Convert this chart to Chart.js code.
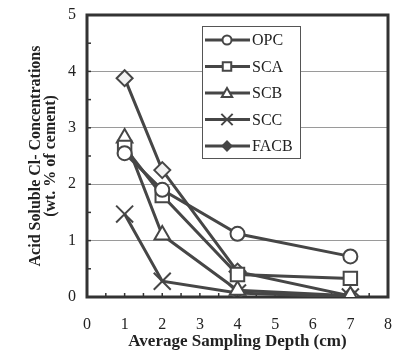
<html>
<head>
    <script src="https://cdn.jsdelivr.net/npm/chart.js@4.4.0/dist/chart.umd.min.js"></script>
    <style>
        body { margin: 0; background: #fff; }
        #wrap { width: 402px; height: 362px; }
    </style>
</head>
<body>
    <div id="wrap"><canvas id="myChart" width="402" height="362"></canvas></div>
    <script type="text/javascript">
        // sampling depths (cm)
        const depths = [1, 2, 4, 7];
        // acid soluble Cl- (wt. % of cement)
        const opc  = [2.55, 1.9, 1.12, 0.72];
        const sca  = [2.65, 1.8, 0.4, 0.33];
        const scb  = [2.82, 1.1, 0.12, 0.02];
        const scc  = [1.47, 0.28, 0.07, 0.0];
        const facb = [3.88, 2.25, 0.45, 0.02];
        const seriesNames = ['OPC', 'SCA', 'SCB', 'SCC', 'FACB'];
        const xTicks = [0, 1, 2, 3, 4, 5, 6, 7, 8];
        const yTicks = [0, 1, 2, 3, 4, 5];

        const lineColor = '#464646';
        const serif = "'Liberation Serif', 'DejaVu Serif', serif";

        const styles = [
            { pointStyle: 'circle',   radius: 7,  bg: '#fff' },
            { pointStyle: 'rect',     radius: 9.5, bg: '#fff' },
            { pointStyle: 'triangle', radius: 9,  bg: '#fff' },
            { pointStyle: 'crossRot', radius: 12, bg: '#fff' },
            { pointStyle: 'rectRot',  radius: 8,  bg: '#f2f2f2' }
        ];
        const legendRadius = [4.5, 6, 6, 8, 4.5];

        function toPoints(vals) {
            return depths.map((d, k) => ({ x: d, y: vals[k] }));
        }

        const allSeries = [opc, sca, scb, scc, facb];
        const datasets = allSeries.map((vals, k) => ({
            label: seriesNames[k],
            data: toPoints(vals),
            borderColor: lineColor,
            borderWidth: 3,
            pointStyle: styles[k].pointStyle,
            pointRadius: styles[k].radius,
            pointBackgroundColor: styles[k].bg,
            pointBorderColor: lineColor,
            pointBorderWidth: 2,
            tension: 0,
            fill: false
        }));

        // frame + small inward ticks
        const framePlugin = {
            id: 'frame',
            beforeDatasetsDraw(chart) {
                const ctx = chart.ctx, a = chart.chartArea;
                const xs = chart.scales.x, ys = chart.scales.y;
                ctx.save();
                ctx.strokeStyle = '#333';
                ctx.lineWidth = 1.5;
                for (let v = 0.5; v < 8; v += 0.5) {
                    const px = xs.getPixelForValue(v);
                    ctx.beginPath();
                    ctx.moveTo(px, a.bottom);
                    ctx.lineTo(px, a.bottom - 4);
                    ctx.stroke();
                }
                for (let v = 0.5; v < 5; v += 0.5) {
                    const py = ys.getPixelForValue(v);
                    ctx.beginPath();
                    ctx.moveTo(a.left, py);
                    ctx.lineTo(a.left + 4, py);
                    ctx.stroke();
                }
                ctx.lineWidth = 3;
                ctx.strokeRect(a.left, a.top, a.right - a.left, a.bottom - a.top);
                ctx.restore();
            }
        };

        // legend box drawn inside the plot
        const legendPlugin = {
            id: 'boxLegend',
            afterDraw(chart) {
                const ctx = chart.ctx;
                const bx = 202, by = 26, bw = 98, bh = 132;
                ctx.save();
                ctx.fillStyle = '#fff';
                ctx.fillRect(bx, by, bw, bh);
                ctx.strokeStyle = '#555';
                ctx.lineWidth = 1;
                ctx.strokeRect(bx + 0.5, by + 0.5, bw, bh);
                chart.data.datasets.forEach((ds, k) => {
                    const y = by + 14 + k * 26.5;
                    ctx.strokeStyle = lineColor;
                    ctx.lineWidth = 3;
                    ctx.beginPath();
                    ctx.moveTo(205, y);
                    ctx.lineTo(250, y);
                    ctx.stroke();
                    ctx.fillStyle = k === 4 ? lineColor : '#fff';
                    ctx.strokeStyle = lineColor;
                    ctx.lineWidth = 2;
                    Chart.helpers.drawPoint(ctx, {
                        pointStyle: ds.pointStyle,
                        rotation: 0,
                        borderWidth: 2,
                        radius: legendRadius[k]
                    }, 227, y + (ds.pointStyle === 'triangle' ? 1 : 0));
                    ctx.fillStyle = '#222';
                    ctx.font = '16px ' + serif;
                    ctx.textBaseline = 'middle';
                    ctx.fillText(ds.label, 252, y + 1);
                });
                ctx.restore();
            }
        };

        const config = {
            type: 'line',
            data: { datasets: datasets },
            options: {
                responsive: false,
                animation: false,
                layout: { padding: { left: 0, right: 5, top: 15, bottom: 0 } },
                plugins: {
                    legend: { display: false },
                    tooltip: { enabled: false }
                },
                scales: {
                    x: {
                        type: 'linear',
                        min: 0,
                        max: 8,
                        afterBuildTicks(scale) { scale.ticks = xTicks.map(v => ({ value: v })); },
                        afterFit(scale) {
                            scale.height = 65;
                            scale.paddingLeft = 0;
                            scale.paddingRight = 0;
                        },
                        grid: { display: false },
                        border: { display: false },
                        ticks: {
                            color: '#222',
                            padding: 10,
                            font: { family: serif, size: 16 }
                        },
                        title: {
                            display: true,
                            text: 'Average Sampling Depth (cm)',
                            color: '#222',
                            padding: { top: 0, bottom: 10 },
                            font: { family: serif, size: 17, weight: 'bold' }
                        }
                    },
                    y: {
                        min: 0,
                        max: 5,
                        afterBuildTicks(scale) { scale.ticks = yTicks.map(v => ({ value: v })); },
                        afterFit(scale) {
                            scale.width = 87;
                            scale.paddingTop = 0;
                            scale.paddingBottom = 0;
                        },
                        grid: {
                            drawTicks: false,
                            color: (c) => (c.tick && c.tick.value > 0 && c.tick.value < 5) ? '#9a9a9a' : 'rgba(0,0,0,0)',
                            lineWidth: 1
                        },
                        border: { display: false },
                        ticks: {
                            color: '#222',
                            padding: 11,
                            font: { family: serif, size: 16 }
                        },
                        title: {
                            display: true,
                            text: ['Acid Soluble Cl- Concentrations', '(wt. % of cement)'],
                            color: '#222',
                            padding: { top: 28, bottom: 0 },
                            font: { family: serif, size: 16, weight: 'bold', lineHeight: 0.95 }
                        }
                    }
                }
            },
            plugins: [framePlugin, legendPlugin]
        };
        var myChart = new Chart(document.getElementById('myChart'), config);
    </script>
</body>
</html>
